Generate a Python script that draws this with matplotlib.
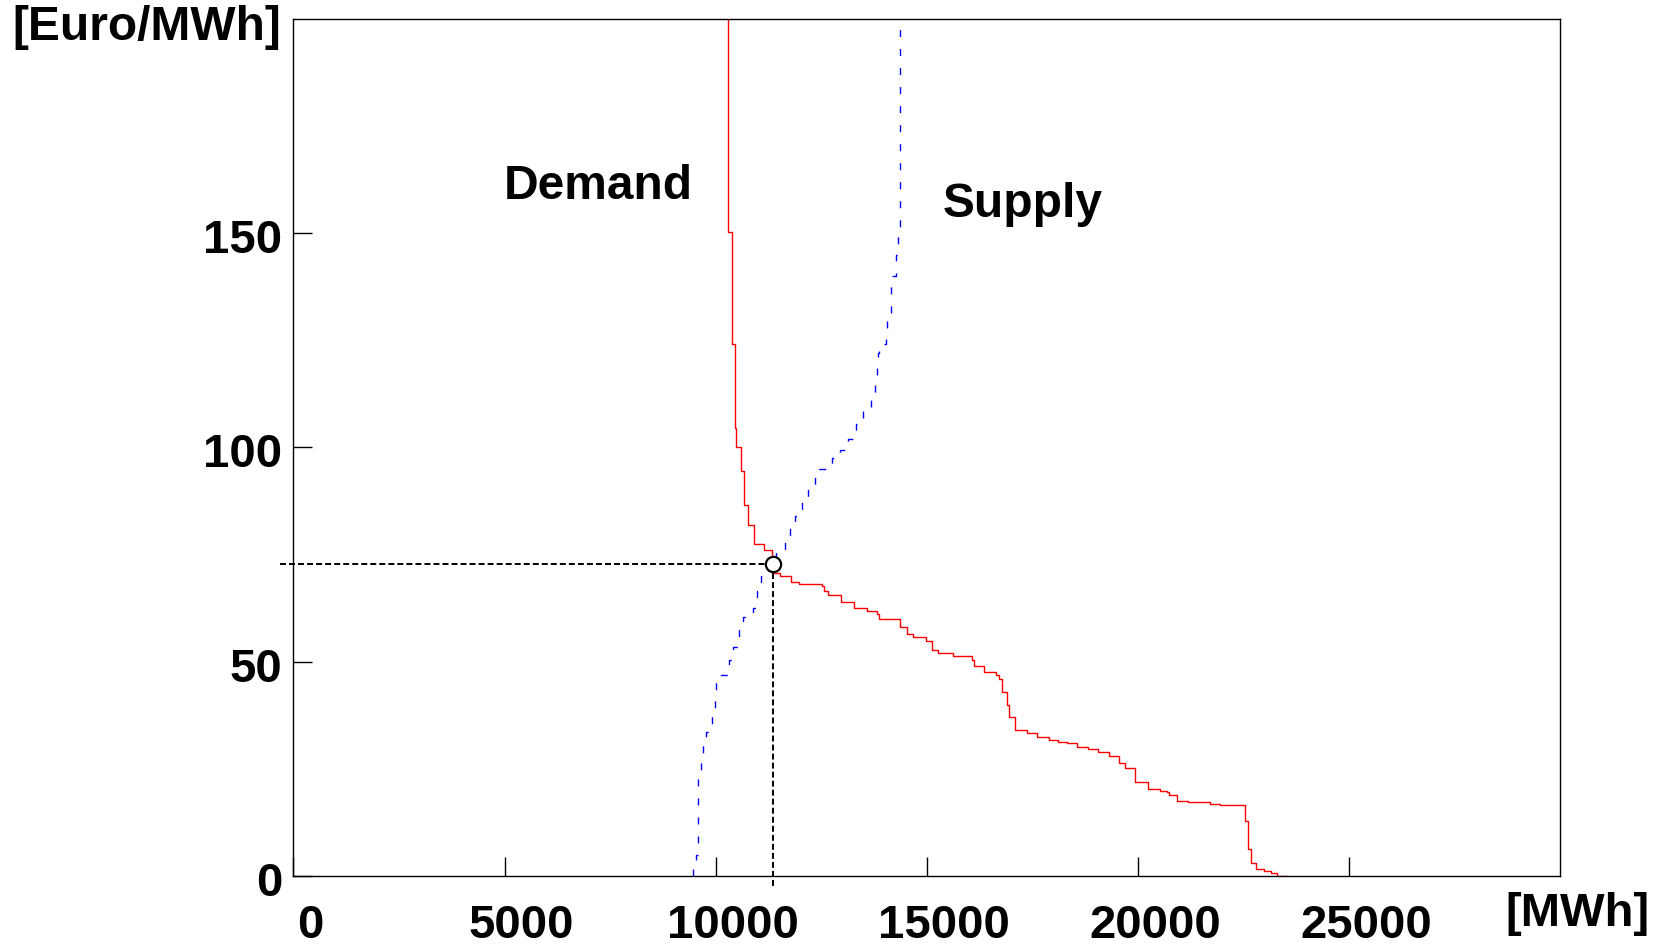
import numpy as np
import matplotlib.pyplot as plt
from matplotlib.transforms import ScaledTranslation

plt.rcParams['font.family'] = ['Liberation Sans', 'DejaVu Sans']
plt.rcParams['font.weight'] = 'bold'
plt.rcParams['lines.scale_dashes'] = False

# demand bids: price level held up to each quantity (step, 'pre')
demand_q = [10294, 10380, 10467, 10491, 10610, 10673, 10760, 10917, 11154,
            11330, 11524, 11785, 11981, 12510, 12567, 12670, 12963, 13279,
            13594, 13817, 13879, 14369, 14527, 14684, 14985, 15120, 15276,
            15632, 16067, 16130, 16367, 16635, 16722, 16793, 16895, 16951,
            17101, 17370, 17607, 17907, 18120, 18318, 18555, 18815, 19052,
            19328, 19565, 19700, 19926, 20248, 20525, 20683, 20745, 20920,
            21188, 21718, 21955, 22547, 22607, 22687, 22789, 22978, 23160,
            23238, 23293, 23530]
demand_p = [200, 150.3, 124.1, 104.6, 100.0, 94.5, 86.6, 81.9, 77.5,
            76.1, 70.7, 70.0, 68.6, 68.1, 67.7, 66.6, 65.5, 64.0,
            62.5, 61.9, 61.1, 60.0, 58.0, 56.5, 55.7, 54.9, 52.7,
            52.0, 51.4, 50.4, 49.0, 47.5, 47.0, 45.9, 43.0, 39.9,
            37.0, 34.0, 33.3, 32.5, 31.7, 31.3, 31.0, 30.2, 29.6,
            28.9, 28.0, 26.4, 25.1, 22.0, 20.2, 19.9, 19.5, 18.9,
            17.5, 17.2, 16.8, 16.6, 12.9, 6.4, 3.1, 1.6, 1.2,
            0.6, 0.6, 0.0]

# supply offers
supply_q = [9456, 9527, 9585, 9645, 9707, 9771, 9913, 9984, 10008, 10086,
            10323, 10418, 10560, 10640, 10877, 10987, 11074, 11250, 11429,
            11642, 11761, 11879, 12038, 12195, 12353, 12455, 12763, 12945,
            13142, 13324, 13497, 13672, 13774, 13814, 13838, 13869, 14028,
            14066, 14146, 14264, 14311, 14373, 14373]
supply_p = [0, 2.5, 5.0, 23.0, 27.0, 30.5, 33.5, 37.0, 41.0, 45.5,
            47.0, 50.5, 53.5, 57.5, 60.5, 62.5, 66.5, 70.5, 74.0,
            75.5, 78.0, 81.0, 84.0, 87.0, 90.0, 93.5, 95.0, 97.5,
            99.5, 102.0, 105.5, 108.5, 111.5, 116.0, 120.0, 122.0, 124.2,
            127.0, 131.0, 140.0, 145.0, 150.0, 200]

eq_q, eq_p = 11350, 72.8

xticks = [0, 5000, 10000, 15000, 20000, 25000]
yticks = [0, 50, 100, 150]

fig = plt.figure(figsize=(16.72, 9.47), dpi=100)
ax = fig.add_axes([0.1755, 0.075, 0.7575, 0.905])

ax.step(demand_q, demand_p, where='pre', color='red', lw=1.0)
ax.step(supply_q, supply_p, where='pre', color='blue', lw=1.0,
        linestyle=(0, (5.0, 8.7)))

# market clearing point with guide lines running past the frame
ax.plot([-330, eq_q], [eq_p, eq_p], color='black', lw=1.4,
        linestyle=(0, (4.3, 2.2)), clip_on=False)
ax.plot([eq_q, eq_q], [eq_p, -2.4], color='black', lw=1.4,
        linestyle=(0, (4.3, 2.2)), clip_on=False)
ax.plot(eq_q, eq_p, 'o', mfc='white', mec='black', ms=11, mew=1.6, zorder=5)

ax.set_xlim(0, 30000)
ax.set_ylim(0, 200)
ax.set_xticks(xticks)
ax.set_yticks(yticks)
ax.set_xticklabels([str(v) for v in xticks])
ax.set_yticklabels([str(v) for v in yticks])
ax.tick_params(direction='in', length=14, width=1, labelsize=34)
ax.tick_params(axis='x', pad=20)
ax.tick_params(axis='y', pad=8)
for lab in ax.get_xticklabels():
    lab.set_transform(lab.get_transform() + ScaledTranslation(0.17, 0, fig.dpi_scale_trans))
for lab in ax.get_yticklabels():
    lab.set_transform(lab.get_transform() + ScaledTranslation(0, -0.03, fig.dpi_scale_trans))
for s in ax.spines.values():
    s.set_linewidth(1)

ax.text(4986, 157.9, 'Demand', fontsize=34.5, ha='left', va='baseline')
ax.text(15385, 153.7, 'Supply', fontsize=34.5, ha='left', va='baseline')

fig.text(12 / 1672, 1 - 27.5 / 947, '[Euro/MWh]', fontsize=34.5, ha='left', va='center')
fig.text(1650 / 1672, 1 - 914 / 947, '[MWh]', fontsize=34, ha='right', va='center')

fig.savefig('out.png', dpi=100)
